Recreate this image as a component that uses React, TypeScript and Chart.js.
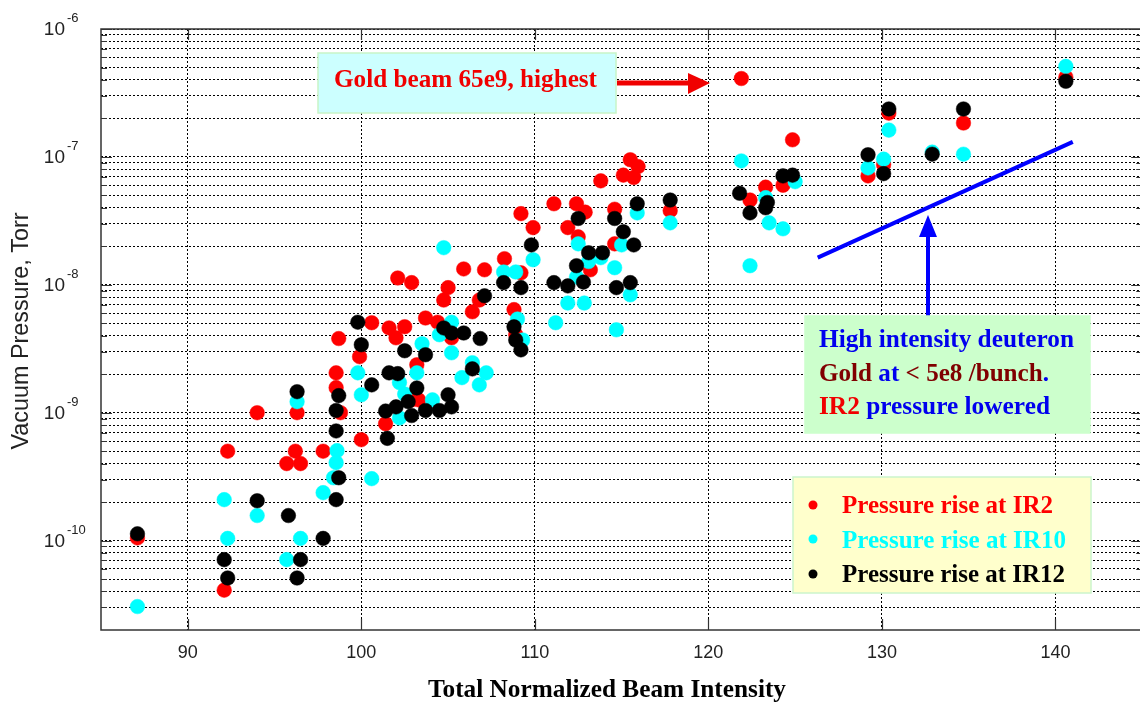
import React, { useEffect, useRef } from "react";
import { Chart, registerables } from "chart.js";

Chart.register(...registerables);

// ---------------- data ----------------
const xTickValues = [90, 100, 110, 120, 130, 140];
const yDecadeExponents = [-10, -9, -8, -7, -6];
const xTitle = "Total Normalized Beam Intensity";
const yTitle = "Vacuum Pressure, Torr";
const seriesLabels = ["Pressure rise at IR2", "Pressure rise at IR10", "Pressure rise at IR12"];

const ir2X = [
  87.1, 92.1, 92.3, 94.0, 95.7, 96.2, 96.5, 96.3, 97.8, 98.7, 98.55, 98.55, 98.8, 100.0, 99.9,
  100.6, 101.6, 102.1, 102.9, 102.0, 102.5, 101.4, 102.9, 103.2, 103.3, 103.7, 104.4, 104.75,
  105.0, 105.2, 105.9, 106.4, 106.8, 107.1, 108.25, 108.8, 109.2, 108.9, 109.2, 109.9, 111.1,
  111.9, 112.4, 112.9, 112.5, 113.2, 113.8, 114.6, 114.6, 115.5, 115.95, 115.1, 115.7, 117.8,
  121.9, 122.4, 123.3, 124.3, 124.85, 129.2, 130.1, 130.4, 134.7, 140.6,
];
const ir2Y = [
  1.05e-10, 4.1e-11, 5.0e-10, 1.0e-9, 4.0e-10, 5.0e-10, 4.0e-10, 1.0e-9, 5.0e-10, 3.8e-9, 2.05e-9,
  1.57e-9, 1.0e-9, 6.15e-10, 2.74e-9, 5.05e-9, 4.6e-9, 1.13e-8, 1.04e-8, 3.85e-9, 4.7e-9, 8.2e-10,
  1.26e-9, 2.37e-9, 1.26e-9, 5.5e-9, 5.1e-9, 7.6e-9, 9.5e-9, 3.85e-9, 1.33e-8, 6.15e-9, 7.6e-9,
  1.31e-8, 1.6e-8, 6.4e-9, 3.6e-8, 4.07e-9, 1.24e-8, 2.8e-8, 4.3e-8, 2.8e-8, 4.3e-8, 3.7e-8,
  2.37e-8, 1.31e-8, 6.5e-8, 3.9e-8, 2.09e-8, 9.5e-8, 8.4e-8, 7.2e-8, 6.9e-8, 3.8e-8, 4.1e-7,
  4.6e-8, 5.8e-8, 6.0e-8, 1.36e-7, 7.1e-8, 8.7e-8, 2.2e-7, 1.84e-7, 4.2e-7,
];

const ir10X = [
  87.1, 92.1, 92.3, 94.0, 95.7, 96.3, 96.5, 97.8, 98.6, 98.55, 98.4, 100.6, 100.0, 99.8, 102.2,
  102.2, 102.5, 103.2, 103.5, 104.1, 104.5, 104.75, 105.2, 105.2, 105.8, 106.4, 107.2, 106.8,
  108.2, 108.9, 109.0, 109.3, 109.9, 111.2, 111.9, 112.85, 112.4, 112.5, 113.1, 113.8, 114.6,
  114.7, 115.0, 115.5, 115.9, 117.8, 121.9, 122.4, 123.3, 123.5, 124.3, 125.0, 129.2, 130.1,
  130.4, 132.9, 134.7, 140.6,
];
const ir10Y = [
  3.05e-11, 2.09e-10, 1.04e-10, 1.57e-10, 7.1e-11, 1.22e-9, 1.04e-10, 2.37e-10, 5.05e-10, 4.07e-10,
  3.1e-10, 3.05e-10, 1.38e-9, 2.05e-9, 1.72e-9, 9.1e-10, 1.4e-9, 2.05e-9, 3.46e-9, 1.26e-9, 4.07e-9,
  1.95e-8, 2.94e-9, 5.1e-9, 1.88e-9, 2.46e-9, 2.05e-9, 1.65e-9, 1.26e-8, 1.26e-8, 5.4e-9, 3.7e-9,
  1.57e-8, 5.05e-9, 7.2e-9, 7.2e-9, 1.15e-8, 2.09e-8, 1.52e-8, 1.63e-8, 1.36e-8, 4.45e-9, 2.05e-8,
  8.35e-9, 3.65e-8, 3.05e-8, 9.3e-8, 1.41e-8, 4.8e-8, 3.05e-8, 2.74e-8, 6.4e-8, 8.2e-8, 9.6e-8,
  1.62e-7, 1.09e-7, 1.05e-7, 5.1e-7,
];

const ir12X = [
  87.1, 92.1, 92.3, 94.0, 95.8, 96.3, 96.5, 96.3, 97.8, 98.7, 98.55, 98.55, 98.7, 98.55, 99.8,
  100.0, 100.6, 101.4, 101.5, 101.6, 102.1, 102.0, 102.5, 102.7, 102.9, 103.2, 103.7, 103.7,
  104.5, 104.75, 105.2, 105.9, 106.85, 105.0, 105.2, 106.4, 107.1, 108.2, 108.8, 108.9, 109.2,
  109.2, 109.8, 111.1, 111.9, 112.4, 112.5, 112.8, 113.1, 113.9, 114.6, 115.1, 114.7, 115.5,
  115.7, 115.9, 117.8, 121.8, 122.4, 123.4, 123.3, 124.3, 124.85, 129.2, 130.1, 130.4, 132.9,
  134.7, 140.6,
];
const ir12Y = [
  1.13e-10, 7.1e-11, 5.1e-11, 2.05e-10, 1.57e-10, 1.46e-9, 7.1e-11, 5.1e-11, 1.04e-10, 1.36e-9,
  1.04e-9, 7.2e-10, 3.1e-10, 2.09e-10, 5.1e-9, 3.4e-9, 1.65e-9, 1.03e-9, 6.3e-10, 2.05e-9, 2.02e-9,
  1.11e-9, 3.05e-9, 1.22e-9, 9.5e-10, 1.56e-9, 2.84e-9, 1.04e-9, 1.04e-9, 4.6e-9, 4.2e-9, 4.2e-9,
  3.8e-9, 1.38e-9, 1.11e-9, 2.2e-9, 8.2e-9, 1.04e-8, 4.7e-9, 3.7e-9, 3.1e-9, 9.5e-9, 2.05e-8,
  1.04e-8, 9.8e-9, 1.41e-8, 3.3e-8, 1.05e-8, 1.78e-8, 1.78e-8, 3.3e-8, 2.6e-8, 9.5e-9, 1.04e-8,
  2.05e-8, 4.3e-8, 4.6e-8, 5.2e-8, 3.65e-8, 4.4e-8, 4.0e-8, 7.1e-8, 7.2e-8, 1.04e-7, 7.4e-8,
  2.37e-7, 1.05e-7, 2.37e-7, 3.9e-7,
];

// blue trend line annotation (deuteron-gold run)
const trendX = [126.3, 141.0];
const trendY = [1.63e-8, 1.31e-7];

const toPoints = (xs: number[], ys: number[]) => xs.map((x, i) => ({ x, y: ys[i] }));

// ---------------- drawing helpers ----------------
type Seg = [string, string];
function drawSegs(ctx: CanvasRenderingContext2D, segs: Seg[], x: number, y: number, font: string, target: number) {
  ctx.font = font;
  const total = segs.reduce((s, [t]) => s + ctx.measureText(t).width, 0);
  const k = target > 0 ? target / total : 1;
  ctx.save();
  ctx.translate(x, y);
  ctx.scale(k, 1);
  ctx.textAlign = "left";
  ctx.textBaseline = "alphabetic";
  let cx = 0;
  for (const [t, c] of segs) {
    ctx.fillStyle = c;
    ctx.fillText(t, cx, 0);
    cx += ctx.measureText(t).width;
  }
  ctx.restore();
}

function box(ctx: CanvasRenderingContext2D, x0: number, y0: number, x1: number, y1: number, fill: string, stroke: string) {
  ctx.fillStyle = fill;
  ctx.fillRect(x0, y0, x1 - x0, y1 - y0);
  ctx.strokeStyle = stroke;
  ctx.lineWidth = 1.5;
  ctx.strokeRect(x0, y0, x1 - x0, y1 - y0);
}

const SERIF_B = 'bold 25px "Liberation Serif", "Times New Roman", serif';
const SANS = '"Liberation Sans", Arial, sans-serif';

const decor = {
  id: "decor",
  afterDraw(chart: any) {
    const { ctx, chartArea: a, scales } = chart;
    const xs = scales.x;
    const ys = scales.y;
    ctx.save();

    // frame
    ctx.strokeStyle = "#333";
    ctx.lineWidth = 1.5;
    ctx.strokeRect(a.left, a.top, a.right - a.left, a.bottom - a.top);

    // inward tick marks
    ctx.lineWidth = 1.2;
    ctx.beginPath();
    for (const t of ys.ticks) {
      const y = Math.round(ys.getPixelForValue(t.value)) + 0.5;
      const lg = Math.log10(t.value);
      const major = Math.abs(lg - Math.round(lg)) < 1e-6;
      const len = major ? 11 : 6;
      ctx.moveTo(a.left, y);
      ctx.lineTo(a.left + len, y);
      ctx.moveTo(a.right, y);
      ctx.lineTo(a.right - len, y);
    }
    for (const v of xTickValues) {
      const x = Math.round(xs.getPixelForValue(v)) + 0.5;
      ctx.moveTo(x, a.bottom);
      ctx.lineTo(x, a.bottom - 11);
      ctx.moveTo(x, a.top);
      ctx.lineTo(x, a.top + 11);
    }
    ctx.stroke();

    // y tick labels 10^n
    ctx.fillStyle = "#222";
    for (const e of yDecadeExponents) {
      const y = ys.getPixelForValue(Math.pow(10, e));
      ctx.font = "19px " + SANS;
      ctx.textAlign = "right";
      ctx.textBaseline = "alphabetic";
      ctx.fillText("10", 65, y + 6);
      ctx.font = "13px " + SANS;
      ctx.textAlign = "left";
      ctx.fillText("-" + Math.abs(e), 67, y - 7);
    }

    // x tick labels
    ctx.font = "18px " + SANS;
    ctx.textAlign = "center";
    ctx.textBaseline = "alphabetic";
    for (const v of xTickValues) {
      ctx.fillText(String(v), xs.getPixelForValue(v), 658);
    }

    // x title
    drawSegs(ctx, [[xTitle, "#000"]], 607 - 358 / 2, 697, 'bold 26px "Liberation Serif", serif', 358);

    // y title
    ctx.save();
    ctx.translate(22, 331);
    ctx.rotate(-Math.PI / 2);
    ctx.font = "23px " + SANS;
    const ytw = ctx.measureText(yTitle).width;
    ctx.scale(237 / ytw, 1);
    ctx.fillStyle = "#222";
    ctx.textAlign = "center";
    ctx.textBaseline = "middle";
    ctx.fillText(yTitle, 0, 0);
    ctx.restore();

    // --- "Gold beam" annotation ---
    box(ctx, 318, 53, 616, 113, "#ccffff", "#c8f5c8");
    drawSegs(ctx, [["Gold beam 65e9, highest", "#f00000"]], 334, 87, SERIF_B, 263);
    ctx.strokeStyle = "#f00000";
    ctx.fillStyle = "#f00000";
    ctx.lineWidth = 5;
    ctx.beginPath();
    ctx.moveTo(617, 83);
    ctx.lineTo(690, 83);
    ctx.stroke();
    ctx.beginPath();
    ctx.moveTo(710, 83);
    ctx.lineTo(688, 73);
    ctx.lineTo(688, 94);
    ctx.closePath();
    ctx.fill();

    // --- blue arrow ---
    ctx.strokeStyle = "#0000ff";
    ctx.fillStyle = "#0000ff";
    ctx.lineWidth = 4;
    ctx.beginPath();
    ctx.moveTo(928, 317);
    ctx.lineTo(928, 234);
    ctx.stroke();
    ctx.beginPath();
    ctx.moveTo(928, 215);
    ctx.lineTo(919, 237);
    ctx.lineTo(937, 237);
    ctx.closePath();
    ctx.fill();

    // --- deuteron box ---
    box(ctx, 805, 316, 1090, 433, "#ccffcc", "#ccffcc");
    const BL = "#0000ee";
    const MR = "#800000";
    drawSegs(ctx, [["High intensity deuteron", BL]], 819, 347, SERIF_B, 255);
    drawSegs(ctx, [["Gold ", MR], ["at ", BL], ["< 5e8 /bunch", MR], [".", BL]], 819, 381, SERIF_B, 230);
    drawSegs(ctx, [["IR2", "#f00000"], [" pressure lowered", BL]], 819, 414, SERIF_B, 231);

    // --- legend box ---
    box(ctx, 793, 477, 1091, 593, "#ffffcc", "#ccf5cc");
    const lgColors = ["#ff0000", "#00ffff", "#000000"];
    const lgBase = [513, 548, 582];
    const lgCenter = [505, 539, 574];
    const lgWidth = [211, 224, 223];
    for (let i = 0; i < 3; i++) {
      ctx.fillStyle = lgColors[i];
      ctx.beginPath();
      ctx.arc(813, lgCenter[i], 4.5, 0, Math.PI * 2);
      ctx.fill();
      drawSegs(ctx, [[seriesLabels[i], lgColors[i]]], 842, lgBase[i], SERIF_B, lgWidth[i]);
    }

    ctx.restore();
  },
};

export default function App() {
  const ref = useRef<HTMLCanvasElement>(null);

  useEffect(() => {
    const canvas = ref.current;
    if (!canvas) return;
    const pt = (color: string) => ({
      backgroundColor: color,
      borderColor: color,
      pointRadius: 7.3,
      pointBorderWidth: 0.5,
      pointHoverRadius: 7.3,
      showLine: false,
    });
    const chart = new Chart(canvas, {
      type: "scatter",
      data: {
        datasets: [
          { label: seriesLabels[0], data: toPoints(ir2X, ir2Y), order: 4, ...pt("#ff0000") },
          { label: seriesLabels[1], data: toPoints(ir10X, ir10Y), order: 3, ...pt("#00ffff") },
          { label: seriesLabels[2], data: toPoints(ir12X, ir12Y), order: 2, ...pt("#000000") },
          {
            label: "trend",
            type: "line",
            data: toPoints(trendX, trendY),
            order: 1,
            showLine: true,
            borderColor: "#0000ff",
            backgroundColor: "#0000ff",
            borderWidth: 4,
            pointRadius: 0,
            fill: false,
          } as any,
        ],
      },
      options: {
        responsive: false,
        animation: false,
        devicePixelRatio: 1,
        layout: { padding: { left: 101, top: 29, right: 4, bottom: 74 } },
        plugins: { legend: { display: false }, tooltip: { enabled: false } },
        events: [],
        scales: {
          x: {
            type: "linear",
            min: 85,
            max: 145,
            afterBuildTicks: (s: any) => {
              s.ticks = xTickValues.map((v) => ({ value: v }));
            },
            ticks: { display: false },
            grid: { color: "#000", lineWidth: 1, drawTicks: false },
            border: { display: false, dash: [2, 2] },
          },
          y: {
            type: "logarithmic",
            min: 2e-11,
            max: 1e-6,
            afterBuildTicks: (s: any) => {
              const t: { value: number }[] = [];
              for (let e = -11; e <= -7; e++) {
                for (let k = 1; k <= 9; k++) {
                  const v = k * Math.pow(10, e);
                  if (v > 2.05e-11) t.push({ value: v });
                }
              }
              t.push({ value: 1e-6 });
              s.ticks = t;
            },
            ticks: { display: false },
            grid: { color: "#000", lineWidth: 1, drawTicks: false },
            border: { display: false, dash: [2, 2] },
          },
        },
      },
      plugins: [decor],
    } as any);
    return () => chart.destroy();
  }, []);

  return (
    <div
      style={{
        position: "fixed",
        left: 0,
        top: 0,
        width: 1140,
        height: 704,
        overflow: "hidden",
        background: "#fff",
      }}
    >
      <canvas ref={ref} width={1150} height={704} style={{ display: "block", width: 1150, height: 704 }} />
    </div>
  );
}
